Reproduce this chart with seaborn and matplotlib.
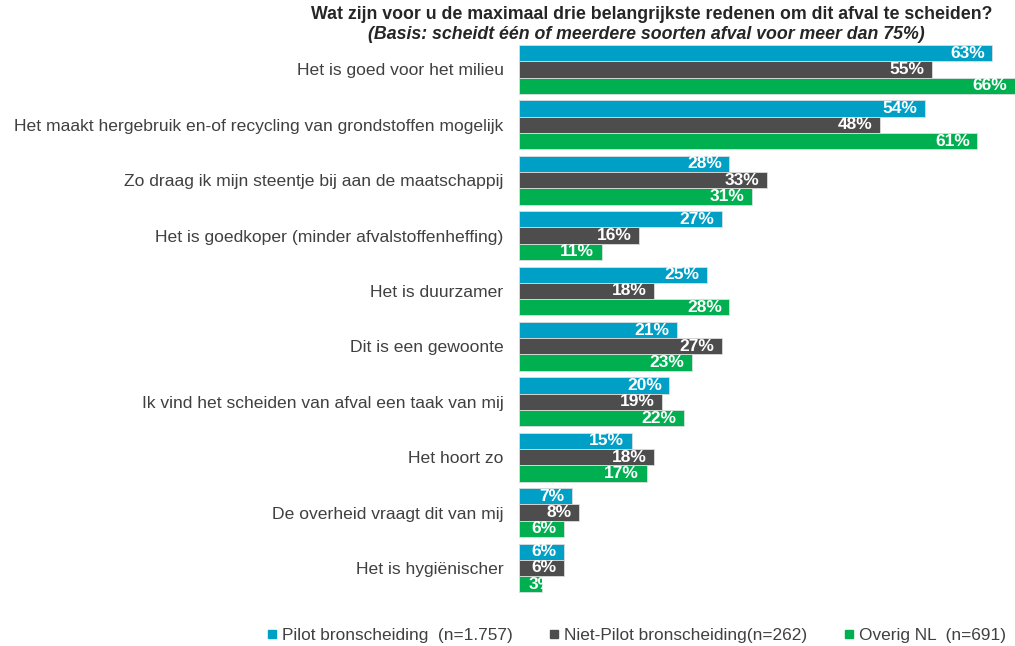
import pandas as pd
import matplotlib.pyplot as plt
import seaborn as sns
from matplotlib.lines import Line2D

# reasons (top to bottom) and percentages per group
categories = [
    "Het is goed voor het milieu",
    "Het maakt hergebruik en-of recycling van grondstoffen mogelijk",
    "Zo draag ik mijn steentje bij aan de maatschappij",
    "Het is goedkoper (minder afvalstoffenheffing)",
    "Het is duurzamer",
    "Dit is een gewoonte",
    "Ik vind het scheiden van afval een taak van mij",
    "Het hoort zo",
    "De overheid vraagt dit van mij",
    "Het is hygiënischer",
]
pilot = [63, 54, 28, 27, 25, 21, 20, 15, 7, 6]
niet_pilot = [55, 48, 33, 16, 18, 27, 19, 18, 8, 6]
overig = [66, 61, 31, 11, 28, 23, 22, 17, 6, 3]

series = ["Pilot bronscheiding  (n=1.757)",
          "Niet-Pilot bronscheiding(n=262)",
          "Overig NL  (n=691)"]
colors = ["#00A0C6", "#4D4D4D", "#00B050"]

title = "Wat zijn voor u de maximaal drie belangrijkste redenen om dit afval te scheiden?"
subtitle = "(Basis: scheidt één of meerdere soorten afval voor meer dan 75%)"

rows = []
for s, vals in zip(series, [pilot, niet_pilot, overig]):
    for c, v in zip(categories, vals):
        rows.append({"reden": c, "groep": s, "pct": v})
df = pd.DataFrame(rows)

sns.set_theme(style="white")
plt.rcParams["font.family"] = ["Liberation Sans", "DejaVu Sans"]

fig = plt.figure(figsize=(10.15, 6.46), dpi=100)
ax = fig.add_axes([0.5113, 0.078, 0.4887, 0.8574])

sns.barplot(data=df, y="reden", x="pct", hue="groep", orient="h",
            palette=colors, saturation=1, width=0.88, order=categories,
            hue_order=series, edgecolor="#DDDDDD", linewidth=0.6,
            legend=False, ax=ax)

ax.set_xlim(0, 66)
ax.set_ylim(9.5, -0.5)
ax.set_xlabel("")
ax.set_ylabel("")
ax.set_xticks([])
ax.tick_params(axis="y", length=0, labelsize=12.6, labelcolor="#404040", pad=11)
sns.despine(ax=ax, left=True, bottom=True, top=True, right=True)

# value labels, white bold at the bar end
for container in ax.containers:
    for bar in container:
        v = bar.get_width()
        y = bar.get_y() + bar.get_height() / 2
        ax.text(max(v, 5.6) - 1.0, y, f"{v:.0f}%", ha="right", va="center",
                color="white", fontsize=12.5, fontweight="bold", clip_on=True)

fig.text(0.642, 0.978, title, ha="center", va="center",
         fontsize=12.8, fontweight="bold", color="#262626")
fig.text(0.637, 0.946, subtitle, ha="center", va="center",
         fontsize=12.8, fontweight="bold", fontstyle="italic", color="#262626")

handles = [Line2D([], [], marker="s", linestyle="", markersize=5.5,
                  markerfacecolor=c, markeredgecolor=c) for c in colors]
fig.legend(handles, series, loc="center", bbox_to_anchor=(0.627, 0.016),
           ncol=3, frameon=False, fontsize=12.4, handlelength=0.6,
           handletextpad=0.3, columnspacing=2.1, labelcolor="#404040",
           borderaxespad=0, borderpad=0)

fig.savefig("out.png", dpi=100)
